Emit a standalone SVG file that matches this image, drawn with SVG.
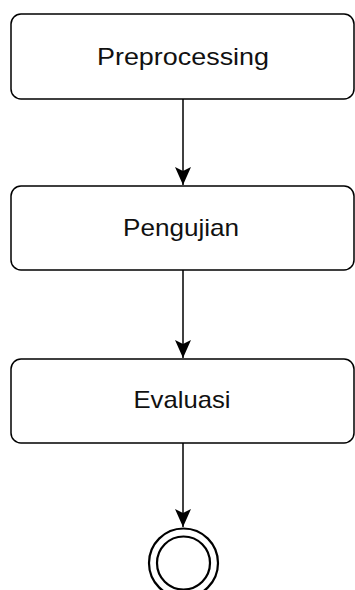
<svg xmlns="http://www.w3.org/2000/svg" width="355" height="590" viewBox="0 0 355 590">
<style>
.box{fill:#ffffff;stroke:#000000;stroke-width:1.5}
.lbl{font-family:"Liberation Sans",Arial,sans-serif;font-size:24px;fill:#111111;text-anchor:middle}
.edge{stroke:#000000;stroke-width:1.5;fill:none}
.final{fill:#ffffff;stroke:#000000;stroke-width:2.2}
</style>
<defs>
<marker id="arr" markerUnits="userSpaceOnUse" markerWidth="20" markerHeight="20" viewBox="0 0 20 20" refX="18" refY="10" orient="auto">
<path d="M0,2 L18,10 L0,18 L4,10 Z" fill="#000000"/>
</marker>
</defs>
<rect width="355" height="590" fill="#ffffff"/>
<g id="connectors">
<line class="edge" x1="183" y1="99" x2="183" y2="185" marker-end="url(#arr)"/>
<line class="edge" x1="183" y1="270" x2="183" y2="358" marker-end="url(#arr)"/>
<line class="edge" x1="183" y1="443" x2="183" y2="527" marker-end="url(#arr)"/>
</g>
<g id="n-preprocessing">
<rect class="box" x="11" y="14" width="343" height="85" rx="10"/>
<text class="lbl" x="183" y="64.5" textLength="172" lengthAdjust="spacingAndGlyphs">Preprocessing</text>
</g>
<g id="n-pengujian">
<rect class="box" x="11" y="186" width="343" height="84" rx="10"/>
<text class="lbl" x="181" y="235.5" textLength="116" lengthAdjust="spacingAndGlyphs">Pengujian</text>
</g>
<g id="n-evaluasi">
<rect class="box" x="11" y="359" width="343" height="84" rx="10"/>
<text class="lbl" x="182" y="408" textLength="97" lengthAdjust="spacingAndGlyphs">Evaluasi</text>
</g>
<g id="n-end">
<circle class="final" cx="183.5" cy="563" r="34.5"/>
<circle class="final" cx="183.5" cy="563" r="26.5"/>
</g>
</svg>
